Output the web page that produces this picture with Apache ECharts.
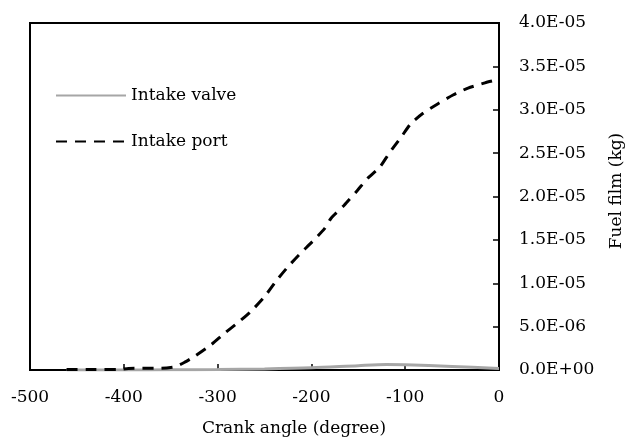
<!DOCTYPE html>
<html>
<head>
<meta charset="utf-8">
<script src="https://cdn.jsdelivr.net/npm/echarts@6/dist/echarts.min.js"></script>
<style>
  html, body { margin: 0; padding: 0; background: #fff; }
  #chart { width: 627px; height: 439px; }
</style>
</head>
<body>
<div id="chart"></div>
<script>
// Crank angle (degree) and fuel film mass (kg) for each wall
const portAngles = [-461, -430, -405, -395, -360, -345, -335, -325, -307, -293, -279, -265, -250, -238, -225, -213, -199, -186, -179, -165, -151, -140, -127, -117, -104, -94, -81, -65, -49, -33, -15, 0];
const portFilm = [0.05e-6, 0.05e-6, 0.08e-6, 0.18e-6, 0.2e-6, 0.38e-6, 0.9e-6, 1.53e-6, 2.9e-6, 4.2e-6, 5.4e-6, 6.7e-6, 8.45e-6, 10.2e-6, 11.9e-6, 13.3e-6, 14.8e-6, 16.3e-6, 17.5e-6, 19.0e-6, 20.7e-6, 22.1e-6, 23.4e-6, 25.0e-6, 26.9e-6, 28.4e-6, 29.6e-6, 30.7e-6, 31.7e-6, 32.5e-6, 33.1e-6, 33.5e-6];

const valveAngles = [-461, -400, -350, -300, -250, -200, -150, -120, -100, -50, 0];
const valveFilm = [0, 0, 0.02e-6, 0.05e-6, 0.12e-6, 0.25e-6, 0.5e-6, 0.62e-6, 0.6e-6, 0.4e-6, 0.18e-6];

const xTicks = { min: -500, max: 0, interval: 100 };
const yTicks = { min: 0, max: 4e-5, interval: 5e-6 };

const FONT = 'DejaVu Serif';

// Excel-style scientific label, e.g. 2.5E-05
function sci(v) {
  if (v === 0) return '0.0E+00';
  const s = v.toExponential(1);
  const [m, e] = s.split('e');
  const n = parseInt(e, 10);
  const sign = n < 0 ? '-' : '+';
  const abs = Math.abs(n);
  return m + 'E' + sign + (abs < 10 ? '0' + abs : String(abs));
}

const pair = (xs, ys) => xs.map((x, i) => [x, ys[i]]);

const chart = echarts.init(document.getElementById('chart'), null, { renderer: 'canvas' });
chart.setOption({
  animation: false,
  backgroundColor: '#ffffff',
  grid: {
    left: 30, right: 128, top: 23, bottom: 69,
    show: true, borderColor: '#000', borderWidth: 2, backgroundColor: 'transparent'
  },
  legend: {
    orient: 'vertical',
    left: 55, top: 87, padding: 0,
    itemWidth: 70, itemHeight: 20, itemGap: 29, itemTextGap: 7,
    itemStyle: { opacity: 0 },
    textStyle: { fontFamily: FONT, fontSize: 17, color: '#000' },
    data: ['Intake valve', 'Intake port']
  },
  xAxis: {
    type: 'value',
    min: xTicks.min, max: xTicks.max, interval: xTicks.interval,
    axisLine: { show: true, lineStyle: { color: '#000', width: 2 } },
    axisTick: { show: true, inside: true, length: 6, lineStyle: { color: '#000', width: 1.5 } },
    axisLabel: { margin: 19, fontFamily: FONT, fontSize: 17, color: '#000' },
    splitLine: { show: false }
  },
  yAxis: {
    type: 'value',
    position: 'right',
    min: yTicks.min, max: yTicks.max, interval: yTicks.interval,
    axisLine: { show: true, lineStyle: { color: '#000', width: 2 } },
    axisTick: { show: true, inside: true, length: 6, lineStyle: { color: '#000', width: 1.5 } },
    axisLabel: { margin: 20, fontFamily: FONT, fontSize: 17, color: '#000', formatter: sci },
    splitLine: { show: false }
  },
  graphic: [
    {
      type: 'text',
      x: 294, y: 429,
      style: { text: 'Crank angle (degree)', fontFamily: FONT, fontSize: 17, fill: '#000', align: 'center', verticalAlign: 'middle' }
    },
    {
      type: 'text',
      x: 617, y: 191, rotation: Math.PI / 2,
      style: { text: 'Fuel film (kg)', fontFamily: FONT, fontSize: 17, fill: '#000', align: 'center', verticalAlign: 'middle' }
    }
  ],
  series: [
    {
      name: 'Intake valve',
      type: 'line',
      data: pair(valveAngles, valveFilm),
      smooth: 0.3,
      symbol: 'none',
      lineStyle: { color: '#a6a6a6', width: 3 },
      itemStyle: { color: '#a6a6a6' }
    },
    {
      name: 'Intake port',
      type: 'line',
      data: pair(portAngles, portFilm),
      smooth: 0.2,
      symbol: 'none',
      lineStyle: { color: '#000', width: 3, type: [11, 8] },
      itemStyle: { color: '#000' }
    }
  ]
});
</script>
</body>
</html>
